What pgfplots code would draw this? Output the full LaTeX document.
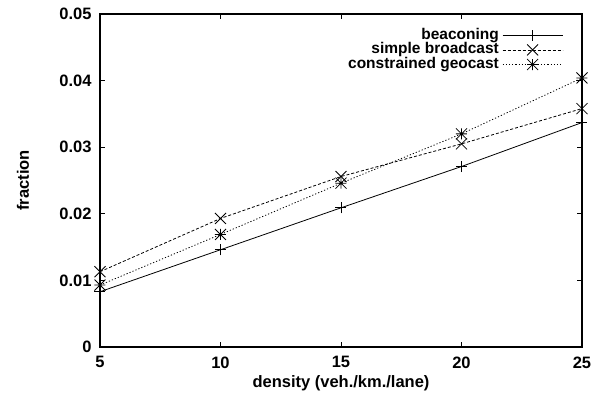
\documentclass[border=0pt]{standalone}
\usepackage{fontspec}
\setmainfont{Liberation Sans}
\usepackage{pgfplots}
\pgfplotsset{compat=1.18}

\pgfdeclareplotmark{gpplus}{%
  \pgfpathmoveto{\pgfqpoint{-\pgfplotmarksize}{0pt}}\pgfpathlineto{\pgfqpoint{\pgfplotmarksize}{0pt}}%
  \pgfpathmoveto{\pgfqpoint{0pt}{-\pgfplotmarksize}}\pgfpathlineto{\pgfqpoint{0pt}{\pgfplotmarksize}}%
  \pgfusepathqstroke}
\pgfdeclareplotmark{gpx}{%
  \pgfpathmoveto{\pgfqpoint{-\pgfplotmarksize}{-\pgfplotmarksize}}\pgfpathlineto{\pgfqpoint{\pgfplotmarksize}{\pgfplotmarksize}}%
  \pgfpathmoveto{\pgfqpoint{-\pgfplotmarksize}{\pgfplotmarksize}}\pgfpathlineto{\pgfqpoint{\pgfplotmarksize}{-\pgfplotmarksize}}%
  \pgfusepathqstroke}
\pgfdeclareplotmark{gpstar}{%
  \pgfpathmoveto{\pgfqpoint{-\pgfplotmarksize}{0pt}}\pgfpathlineto{\pgfqpoint{\pgfplotmarksize}{0pt}}%
  \pgfpathmoveto{\pgfqpoint{0pt}{-\pgfplotmarksize}}\pgfpathlineto{\pgfqpoint{0pt}{\pgfplotmarksize}}%
  \pgfpathmoveto{\pgfqpoint{-\pgfplotmarksize}{-\pgfplotmarksize}}\pgfpathlineto{\pgfqpoint{\pgfplotmarksize}{\pgfplotmarksize}}%
  \pgfpathmoveto{\pgfqpoint{-\pgfplotmarksize}{\pgfplotmarksize}}\pgfpathlineto{\pgfqpoint{\pgfplotmarksize}{-\pgfplotmarksize}}%
  \pgfusepathqstroke}

\newcommand{\gpfont}{\fontsize{16.5}{18}\bfseries\selectfont}
\newcommand{\gplegfont}{\fontsize{15.5}{17}\bfseries\selectfont}

\begin{document}
\begin{tikzpicture}
\path[use as bounding box] (-100pt,-52pt) rectangle (503pt,347pt);
\begin{axis}[
  at={(0pt,0pt)}, anchor=south west,
  scale only axis, width=482pt, height=333pt,
  xmin=5, xmax=25, ymin=0, ymax=0.05,
  xtick={5,10,15,20,25},
  ytick={0,0.01,0.02,0.03,0.04,0.05},
  scaled y ticks=false,
  /pgf/number format/assume math mode=true,
  yticklabel style={/pgf/number format/fixed, /pgf/number format/precision=2, font=\gpfont, xshift=-5pt},
  xticklabel style={font=\gpfont, yshift=-6pt},
  tick align=inside,
  major tick length=5pt,
  every tick/.style={black, line width=0.8pt},
  axis line style={line width=1.2pt},
  xlabel={density (veh./km./lane)},
  ylabel={fraction},
  xlabel style={font=\gpfont, at={(axis description cs:0.5,-0.11)}, anchor=center},
  ylabel style={font=\gpfont, at={(axis description cs:-0.16,0.5)}, anchor=center},
  legend plot pos=right,
  legend cell align=right,
  legend style={draw=none, fill=none, font=\gplegfont,
    at={(rel axis cs:1,1)}, anchor=north east, xshift=-19pt, yshift=-14pt,
    inner sep=0pt, outer sep=0pt, row sep=0pt, column sep=3pt,
    nodes={inner sep=0.3pt, text height=11pt, text depth=3pt}},
  legend image code/.code={%
    \draw[#1] (0pt,0pt) -- (60pt,0pt);
    \begin{pgfinterruptboundingbox}
    \draw[#1] plot coordinates {(30pt,0pt)};
    \end{pgfinterruptboundingbox}},
  mark size=5.5pt,
]
\addplot[black, line width=0.8pt, mark=gpplus, mark options={solid}] coordinates {
  (5,0.0083) (10,0.0146) (15,0.0209) (20,0.0271) (25,0.0337)};
\addlegendentry{beaconing}
\addplot[black, line width=0.8pt, dash pattern=on 3pt off 2pt, mark=gpx, mark options={solid}] coordinates {
  (5,0.0113) (10,0.0193) (15,0.0256) (20,0.0305) (25,0.0358)};
\addlegendentry{simple broadcast}
\addplot[black, line width=0.8pt, dash pattern=on 1.2pt off 2pt, mark=gpstar, mark options={solid}] coordinates {
  (5,0.0093) (10,0.0169) (15,0.0246) (20,0.0320) (25,0.0404)};
\addlegendentry{constrained geocast}
\end{axis}
\end{tikzpicture}
\end{document}
